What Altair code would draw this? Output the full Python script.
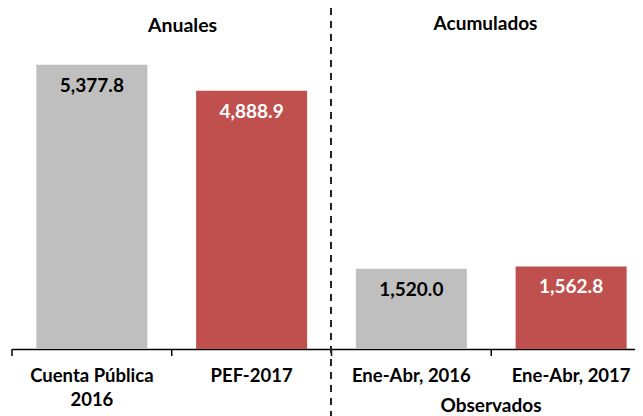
import altair as alt
import pandas as pd

categorias = ["Cuenta Pública|2016", "PEF-2017", "Ene-Abr, 2016", "Ene-Abr, 2017"]
valores = [5377.8, 4888.9, 1520.0, 1562.8]
series = ["2016", "2017", "2016", "2017"]
encabezados = ["Anuales", "Acumulados"]
pie = "Observados"

df = pd.DataFrame({"categoria": categorias, "valor": valores, "serie": series})

FONT = "Lato"
W, H = 623, 317
RANGE = 639
PAD_IN = 0.305
STEP = RANGE / len(categorias)

x_scale = alt.Scale(domain=categorias, range=[0, RANGE], paddingInner=PAD_IN, paddingOuter=PAD_IN / 2)

x_enc = alt.X(
    "categoria:N",
    sort=categorias,
    scale=x_scale,
    axis=alt.Axis(
        title=None,
        labelExpr="split(datum.value, '|')",
        ticks=False,
        tickSize=0,
        domainColor="black",
        domainWidth=1.5,
        labelFont=FONT,
        labelFontWeight="bold",
        labelFontSize=18.5,
        labelColor="black",
        labelPadding=17,
        labelLineHeight=24,
        labelAngle=0,
        labelOverlap=False,
        labelBound=False,
        labelFlush=False,
    ),
)
y_enc = alt.Y("valor:Q", scale=alt.Scale(domain=[0, 6000], nice=False), axis=None)

base = alt.Chart(df)

bars = base.mark_bar().encode(
    x=x_enc,
    y=y_enc,
    color=alt.Color("serie:N", scale=alt.Scale(domain=["2016", "2017"], range=["#BFBFBF", "#C0504D"]), legend=None),
)

ticks = base.mark_rule(color="black", strokeWidth=1.5, xOffset=-PAD_IN * STEP / 2).encode(
    x=alt.X("categoria:N", sort=categorias, bandPosition=0),
    y=alt.value(H),
    y2=alt.value(H + 7),
)

labels = base.mark_text(font=FONT, fontWeight="bold", fontSize=19, baseline="alphabetic", dy=27).encode(
    x=alt.X("categoria:N", sort=categorias),
    y=alt.Y("valor:Q"),
    text=alt.Text("valor:Q", format=",.1f"),
    color=alt.Color("serie:N", scale=alt.Scale(domain=["2016", "2017"], range=["#000000", "#FFFFFF"]), legend=None),
)

one = alt.Data(values=[{"k": 1}])

h1 = alt.Chart(one).mark_text(text=encabezados[0], font=FONT, fontWeight="bold", fontSize=19.5,
                              baseline="alphabetic", color="black").encode(
    x=alt.value(170.5), y=alt.value(0))
h2 = alt.Chart(one).mark_text(text=encabezados[1], font=FONT, fontWeight="bold", fontSize=19,
                              baseline="alphabetic", color="black").encode(
    x=alt.value(473.5), y=alt.value(-2))
obs = alt.Chart(one).mark_text(text=pie, font=FONT, fontWeight="bold", fontSize=19,
                               baseline="alphabetic", color="black").encode(
    x=alt.value(479), y=alt.value(380))

rule = alt.Chart(one).mark_rule(color="#222222", strokeWidth=2, strokeDash=[7, 6]).encode(
    x=alt.value(319), y=alt.value(-24), y2=alt.value(384))

chart = alt.layer(bars, ticks, labels, rule, h1, h2, obs).resolve_scale(color="independent").properties(
    width=W,
    height=H,
    padding={"left": 4, "top": 24, "right": 0, "bottom": 67},
    autosize=alt.AutoSizeParams(type="none"),
    background="white",
).configure_view(stroke=None)

chart.save("out.html", embed_options={"renderer": "svg", "actions": False})
